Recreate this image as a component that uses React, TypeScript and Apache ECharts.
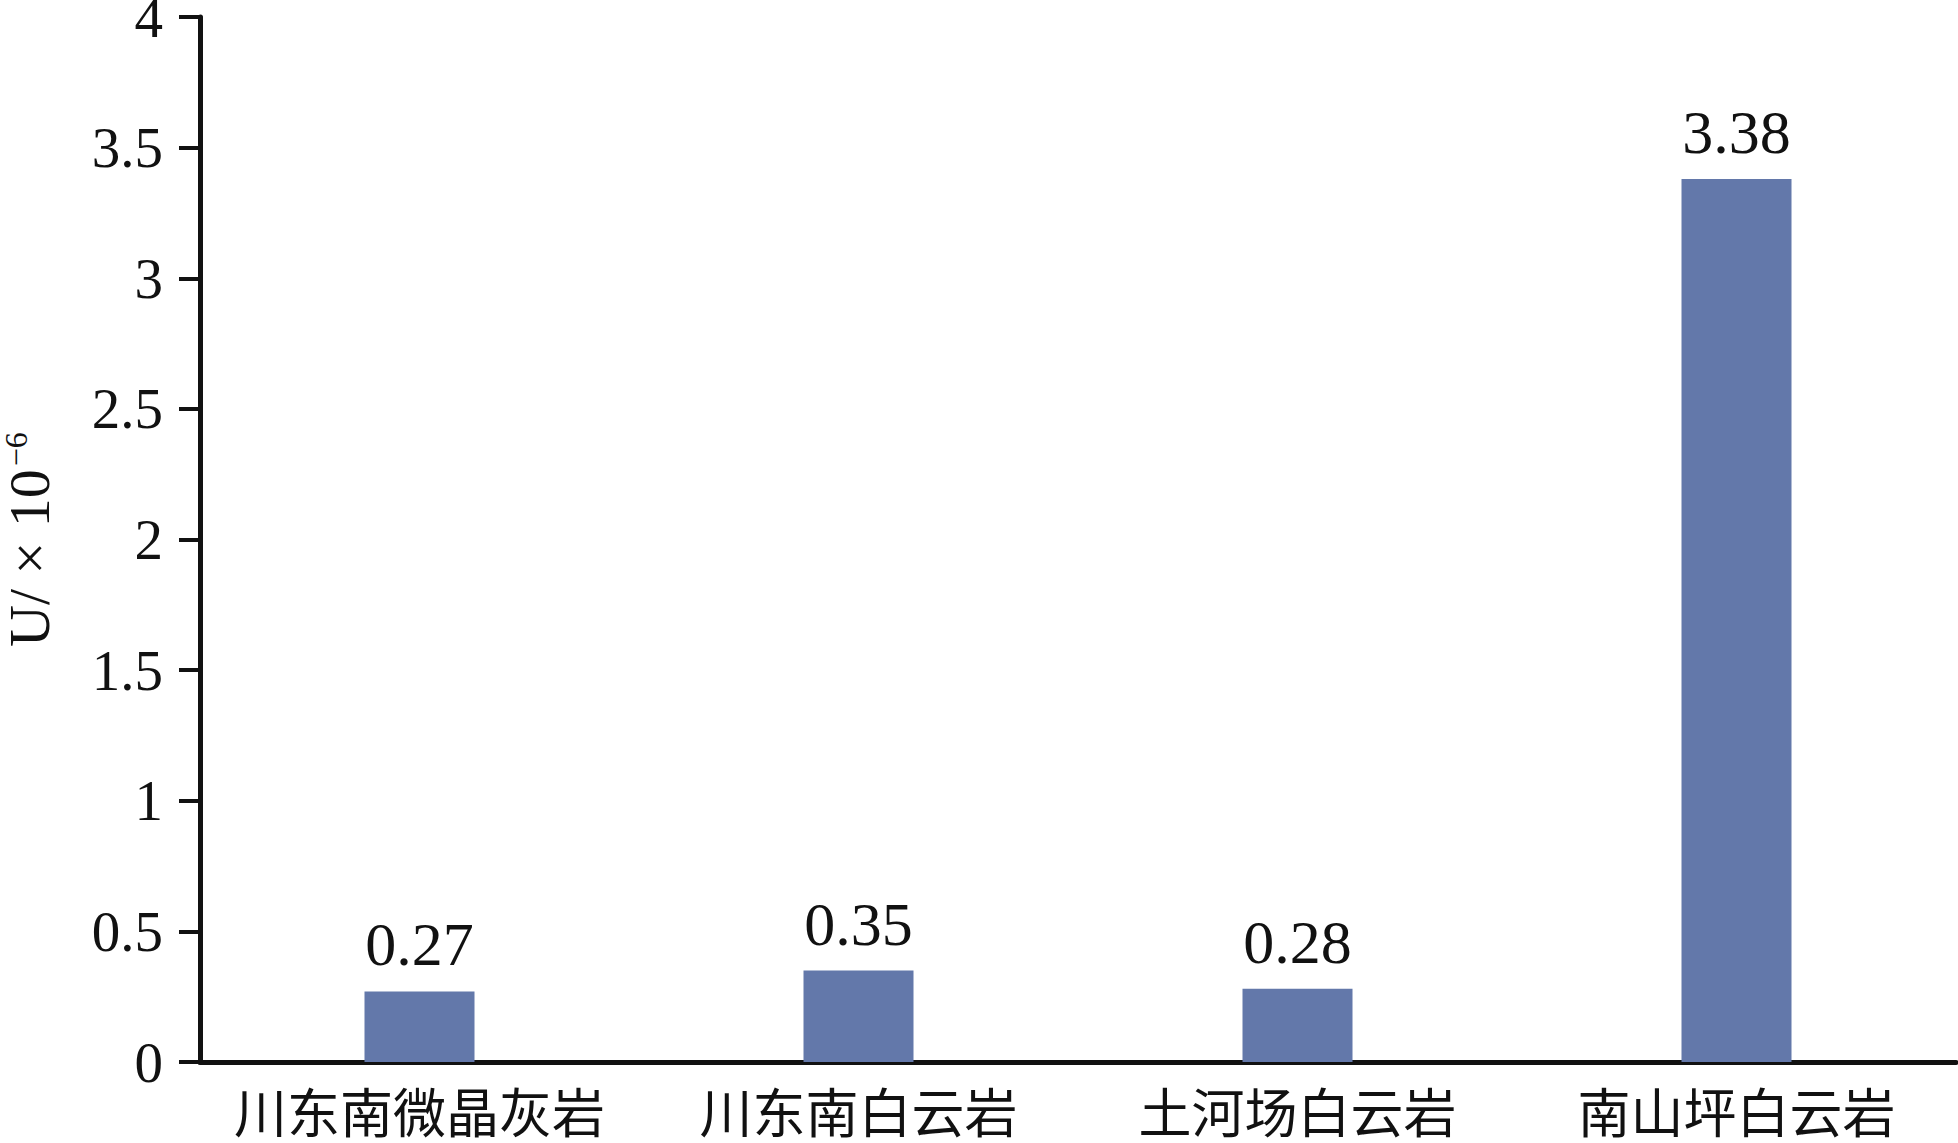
import React, { useEffect, useRef } from "react";
import * as echarts from "echarts";

const categories = ["川东南微晶灰岩", "川东南白云岩", "土河场白云岩", "南山坪白云岩"];
const uValues = [0.27, 0.35, 0.28, 3.38];
const yMin = 0;
const yMax = 4;
const yInterval = 0.5;

export default function App() {
  const ref = useRef<HTMLDivElement>(null);
  useEffect(() => {
    if (!ref.current) return;
    const chart = echarts.init(ref.current, null, { renderer: "svg" });
    chart.setOption({
      animation: false,
      backgroundColor: "#ffffff",
      grid: { left: 200, right: 2, top: 17, bottom: 81, containLabel: false, outerBoundsMode: "none" },
      xAxis: {
        type: "category",
        data: categories,
        axisLine: { show: true, lineStyle: { color: "#111", width: 5 } },
        axisTick: { show: false },
        axisLabel: {
          color: "#111",
          fontFamily: "Noto Sans CJK SC",
          fontSize: 53,
          lineHeight: 54,
          margin: 21,
          interval: 0,
        },
      },
      yAxis: {
        type: "value",
        min: yMin,
        max: yMax,
        interval: yInterval,
        splitLine: { show: false },
        axisLine: { show: true, lineStyle: { color: "#111", width: 5 } },
        axisTick: { show: true, length: 21, lineStyle: { color: "#111", width: 4 } },
        axisLabel: {
          color: "#111",
          fontFamily: "Liberation Serif",
          fontSize: 57,
          lineHeight: 30,
          margin: 37,
        },
        name: "{a|U/ × 10}{b|−6}",
        nameLocation: "middle",
        nameGap: 142,
        nameRotate: 90,
        nameTextStyle: {
          rich: {
            a: { fontFamily: "Liberation Serif", fontSize: 58, color: "#111" },
            b: { fontFamily: "Liberation Serif", fontSize: 32, color: "#111", verticalAlign: "top", padding: [0, 0, 22, 3] },
          },
        },
      },
      series: [
        {
          type: "bar",
          data: uValues,
          barWidth: 110,
          itemStyle: { color: "#6378AA" },
          label: {
            show: true,
            position: "top",
            distance: 16,
            color: "#111",
            fontFamily: "Liberation Serif",
            fontSize: 62,
            formatter: (p: any) => p.value.toFixed(2),
          },
        },
      ],
    });
    return () => chart.dispose();
  }, []);
  return (
    <>
      <style>{"html,body{margin:0;padding:0;background:#fff;}"}</style>
      <div
        ref={ref}
        style={{ position: "fixed", left: 0, top: 0, width: 1958, height: 1143, background: "#fff" }}
      />
    </>
  );
}
